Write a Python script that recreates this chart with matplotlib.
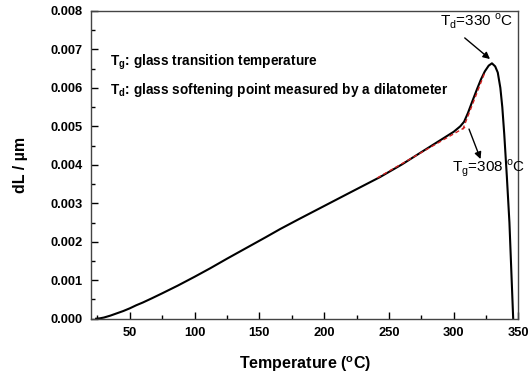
import matplotlib.pyplot as plt
import numpy as np
from matplotlib.ticker import MultipleLocator

plt.rcParams['font.family'] = ['Liberation Sans', 'DejaVu Sans']
plt.rcParams['mathtext.fontset'] = 'custom'
plt.rcParams['mathtext.rm'] = 'Liberation Sans'
plt.rcParams['mathtext.bf'] = 'Liberation Sans:bold'

# dilatometer curve
temp = [24, 27, 30, 35, 40, 45, 50, 55, 60, 67, 75, 87, 100, 112, 125, 140, 155,
        166, 180, 200, 220, 243, 260, 275, 292, 300, 305, 308, 311, 314, 318,
        321, 324, 327, 329.5, 332, 334, 336, 337.5, 339, 341, 343, 345.9]
dL = [0.0, 0.00001, 0.00003, 0.00008, 0.00014, 0.0002, 0.00027, 0.00035, 0.00042,
      0.00053, 0.00066, 0.00086, 0.00109, 0.00131, 0.00156, 0.00184, 0.00212,
      0.00233, 0.00258, 0.00293, 0.00328, 0.00368, 0.00401, 0.00433, 0.00469,
      0.00486, 0.005, 0.00512, 0.00535, 0.00562, 0.00597, 0.00622, 0.00643,
      0.00658, 0.00664, 0.00656, 0.0064, 0.006, 0.0055, 0.0048, 0.0037,
      0.0025, 0.0]

# tangent lines (red dashed)
fit1_t = [241, 310]
fit1_v = [0.00366, 0.005]
fit2_t = [307, 324]
fit2_v = [0.00492, 0.0064]

fig = plt.figure(figsize=(5.28, 3.74), dpi=100)
ax = fig.add_axes([0.1723, 0.1479, 0.8097, 0.8227])

ax.plot(temp, dL, color='black', lw=1.5)
ax.plot(fit1_t, fit1_v, color='#d02020', lw=1.0, ls=(0, (3, 2)))
ax.plot(fit2_t, fit2_v, color='#d02020', lw=1.0, ls=(0, (3, 2)))

ax.set_xlim(20, 350)
ax.set_ylim(0, 0.008)
ax.xaxis.set_major_locator(MultipleLocator(50))
ax.xaxis.set_minor_locator(MultipleLocator(25))
ax.yaxis.set_major_locator(MultipleLocator(0.001))
ax.yaxis.set_minor_locator(MultipleLocator(0.0005))
ax.yaxis.set_major_formatter(plt.FormatStrFormatter('%.3f'))
ax.tick_params(which='major', direction='in', length=5, width=1, labelsize=9.3, pad=6)
ax.tick_params(which='minor', direction='in', length=3, width=1)
for lab in ax.get_xticklabels() + ax.get_yticklabels():
    lab.set_fontweight('bold')
for s in ax.spines.values():
    s.set_color('#444444')
    s.set_linewidth(1.0)

ax.set_xlabel(r'Temperature ($\mathbf{^o}$C)', fontsize=11.5, fontweight='bold', labelpad=11)
ax.set_ylabel('dL / µm', fontsize=11.5, fontweight='bold', labelpad=16)

ax.text(34.8, 0.00667, r'T$_\mathbf{g}$: glass transition temperature',
        fontsize=9.8, fontweight='bold', va='center')
ax.text(34.8, 0.00594, r'T$_\mathbf{d}$: glass softening point measured by a dilatometer',
        fontsize=9.8, fontweight='bold', va='center')

ax.annotate('', xy=(328, 0.00675), xytext=(308.5, 0.0073),
            arrowprops=dict(arrowstyle='-|>', color='black', lw=1.0, mutation_scale=10,
                            shrinkA=0, shrinkB=0))
ax.text(318, 0.00772, r'T$_\mathrm{d}$=330 $^\mathrm{o}$C', ha='center', va='center', fontsize=11)
ax.annotate('', xy=(320.7, 0.00415), xytext=(311.8, 0.00493),
            arrowprops=dict(arrowstyle='-|>', color='black', lw=1.0, mutation_scale=10,
                            shrinkA=0, shrinkB=0))
ax.text(327.2, 0.00392, r'T$_\mathrm{g}$=308 $^\mathrm{o}$C', ha='center', va='center', fontsize=11)

fig.savefig('out.png', dpi=100)
